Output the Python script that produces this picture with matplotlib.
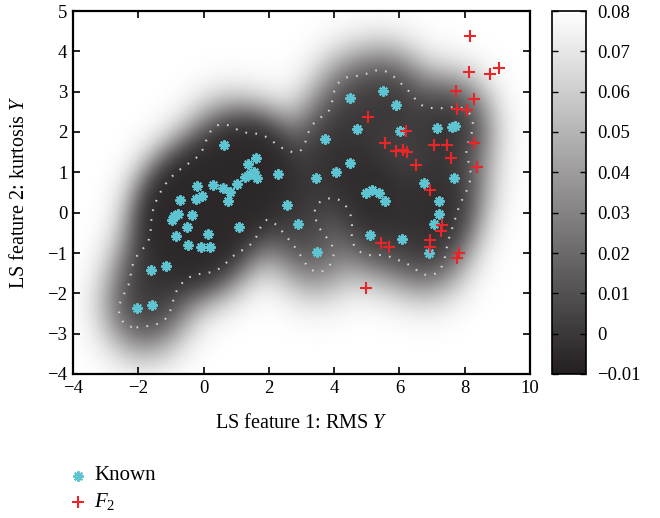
import matplotlib
matplotlib.use("Agg")
import numpy as np
import matplotlib.pyplot as plt
from matplotlib.colors import LinearSegmentedColormap
from matplotlib.lines import Line2D

plt.rcParams["font.family"] = ["Liberation Serif", "DejaVu Serif"]
plt.rcParams["mathtext.fontset"] = "custom"
plt.rcParams["mathtext.rm"] = "Liberation Serif"
plt.rcParams["mathtext.it"] = "Liberation Serif:italic"

# known samples (LS feature 1, LS feature 2)
known_x = [-2.03, -1.57, -1.60, -1.14, -0.83, -0.98, -0.92, -0.78, -0.71, -0.52,
           -0.49, -0.34, -0.24, -0.19, -0.08, -0.06, 0.15, 0.21, 0.30, 0.61,
           0.62, 0.74, 0.82, 1.01, 1.09, 1.26, 1.35, 1.42, 1.55, 1.62,
           1.63, 2.27, 2.57, 2.88, 3.44, 3.46, 3.71, 4.05, 4.48, 4.50,
           4.69, 4.97, 5.10, 5.15, 5.38, 5.50, 5.56, 5.91, 6.02, 6.07,
           6.75, 6.90, 7.07, 7.14, 7.20, 7.21, 7.60, 7.70, 7.67]
known_y = [-2.37, -2.29, -1.41, -1.33, -0.59, -0.17, -0.08, -0.03, 0.32, -0.36,
           -0.81, -0.06, 0.33, 0.66, -0.86, 0.42, -0.54, -0.86, 0.69, 0.61,
           1.67, 0.30, 0.52, 0.70, -0.35, 0.88, 1.21, 0.95, 1.02, 1.35,
           0.86, 0.97, 0.18, -0.27, 0.86, -0.98, 1.83, 1.00, 1.23, 2.85,
           2.07, 0.49, -0.55, 0.57, 0.49, 3.02, 0.28, 2.67, 2.02, -0.66,
           0.74, -1.01, -0.28, 2.10, 0.28, -0.04, 2.12, 2.16, 0.86]

# F2 samples
f2_x = [8.16, 8.12, 8.77, 9.05, 7.73, 8.28, 7.75, 8.06, 5.03, 6.20,
        5.57, 5.91, 6.10, 6.24, 7.06, 7.45, 8.28, 7.57, 6.51, 8.38,
        6.94, 7.30, 7.27, 5.45, 5.69, 6.94, 6.94, 7.82, 7.75, 4.97]
f2_y = [4.39, 3.49, 3.43, 3.59, 3.02, 2.82, 2.58, 2.54, 2.37, 2.02,
        1.73, 1.54, 1.56, 1.50, 1.69, 1.69, 1.73, 1.35, 1.18, 1.13,
        0.55, -0.30, -0.45, -0.76, -0.84, -0.68, -0.86, -0.99, -1.13, -1.88]

x_ticks = [-4, -2, 0, 2, 4, 6, 8, 10]
y_ticks = [-4, -3, -2, -1, 0, 1, 2, 3, 4, 5]
cb_ticks = [-0.01, 0, 0.01, 0.02, 0.03, 0.04, 0.05, 0.06, 0.07, 0.08]
cb_labels = ["\u22120.01", "0", "0.01", "0.02", "0.03", "0.04",
             "0.05", "0.06", "0.07", "0.08"]

# smoothed map of the known samples
gx = np.linspace(-4, 10, 420)
gy = np.linspace(-4, 5, 270)
GX, GY = np.meshgrid(gx, gy)
P = np.column_stack([known_x, known_y])
G = np.column_stack([GX.ravel(), GY.ravel()])


def rbf(a, b, ell):
    d2 = ((a[:, None, :] - b[None, :, :]) ** 2).sum(-1)
    return np.exp(-d2 / (2 * ell ** 2))


# shading: kernel density of the known samples
dens = rbf(G, P, 0.72).sum(axis=1).reshape(GX.shape)
Z = 0.08 - 0.086 * (1 - np.exp(-dens / 1.3))

# boundary: GP posterior variance of the known samples
ell, noise = 0.75, 0.02
Ks = rbf(G, P, ell)
A = rbf(P, P, ell) + noise * np.eye(len(P))
var = (1 - (Ks * np.linalg.solve(A, Ks.T).T).sum(axis=1)).reshape(GX.shape)

cmap = LinearSegmentedColormap.from_list("g", ["#231f20", "#ffffff"])
CYAN = "#5ec4d2"
RED = "#e8262a"

fig = plt.figure(figsize=(6.6, 5.18), dpi=100)
ax = fig.add_axes([73 / 660, 1 - 374 / 518, 457 / 660, 363 / 518])
cax = fig.add_axes([552 / 660, 1 - 374 / 518, 34 / 660, 363 / 518])

im = ax.imshow(Z, extent=(-4, 10, -4, 5), origin="lower", cmap=cmap,
               vmin=-0.01, vmax=0.08, aspect="auto", interpolation="bilinear")
ax.contour(GX, GY, var, levels=[0.3], colors="#d4d4d4", linewidths=1.5,
           linestyles=[(0, (0.8, 4.0))])

ax.plot(known_x, known_y, linestyle="none", marker=(8, 2, 0), ms=7.5, mew=1.5,
        color=CYAN)
ax.plot(f2_x, f2_y, linestyle="none", marker="+", ms=8, mew=1.5, color=RED)

ax.set_xlim(-4, 10)
ax.set_ylim(-4, 5)
ax.set_xticks(x_ticks)
ax.set_yticks(y_ticks)
ax.tick_params(direction="in", top=True, right=True, length=5, width=1.2,
               labelsize=13.5, pad=4)
for s in ax.spines.values():
    s.set_linewidth(1.6)
ax.set_xlabel("LS feature 1: RMS $Y$", fontsize=14.5, va="center")
ax.xaxis.set_label_coords(0.5, -0.135)
ax.set_ylabel("LS feature 2: kurtosis $Y$", fontsize=14.5, va="center")
ax.yaxis.set_label_coords(-0.116, 0.5)

cb = fig.colorbar(im, cax=cax, ticks=cb_ticks)
cb.ax.tick_params(direction="in", left=True, right=True, length=4, width=1,
                  labelsize=13.5, pad=8)
cb.ax.set_yticklabels(cb_labels)
cb.outline.set_linewidth(1.2)

# legend below the axes
for yy, mk, ms, col, lab in [(476, (8, 2, 0), 7.5, CYAN, "Known"),
                             (502, "+", 8, RED, "$F_2$")]:
    fig.add_artist(Line2D([78 / 660], [1 - yy / 518], transform=fig.transFigure,
                          linestyle="none", marker=mk, ms=ms, mew=1.5, color=col))
    fig.text(94 / 660, 1 - yy / 518, lab, fontsize=15, va="center", ha="left")

fig.savefig("out.png", dpi=100)
